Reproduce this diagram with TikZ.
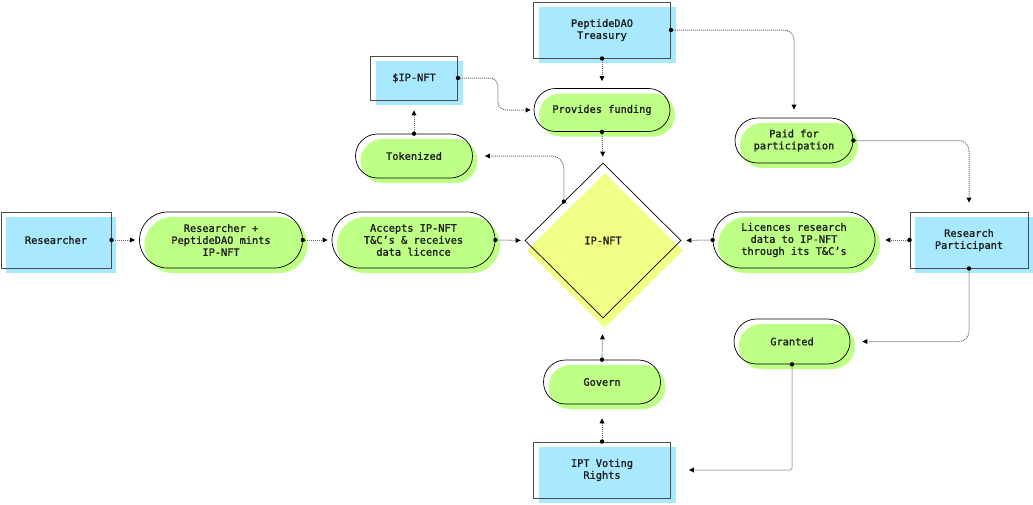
\documentclass[tikz,border=0pt]{standalone}
\usepackage{fontspec}
\setmainfont[FakeBold=1.4]{DejaVu Sans Mono}
\usetikzlibrary{arrows.meta,shapes.geometric}
\definecolor{bluefill}{HTML}{A8E9FF}
\definecolor{greenfill}{HTML}{BEFF86}
\definecolor{yellowfill}{HTML}{F1FF86}
\definecolor{ink}{HTML}{1E1E1E}
\tikzset{
  base/.style={inner sep=0pt, align=center, text=ink, font=\fontsize{10.3}{12}\selectfont},
  rectbox/.style={base, rectangle, draw=black!70, line width=0.9pt,
    preaction={fill=bluefill, transform canvas={shift={(5,5)}}}},
  pill/.style={base, rectangle, draw=black, line width=0.7pt, rounded corners=#1,
    preaction={fill=greenfill, transform canvas={shift={(5,5)}}}},
  gem/.style={base, diamond, draw=black, line width=0.7pt, aspect=1,
    preaction={fill=yellowfill, transform canvas={shift={(2,10)}}}},
  conn/.style={draw=black!60, line width=1pt, densely dotted,
    -{Triangle[length=5pt,width=5pt,black,line width=0pt]}, shorten >=#1},
  conn/.default=5pt,
  dot/.style={fill=black}
}
\begin{document}
\begin{tikzpicture}[x=1pt,y=-1pt]
\useasboundingbox (0,0) rectangle (1033,504);
% nodes
\node[rectbox, minimum width=110pt, minimum height=56pt] (res) at (56,240) {Researcher};
\node[pill=28pt, minimum width=163pt, minimum height=56pt] (mint) at (221,240) {Researcher +\\PeptideDAO mints\\IP-NFT};
\node[pill=28pt, minimum width=163pt, minimum height=56pt] (acc) at (413.5,240) {Accepts IP-NFT\\T\&C’s \& receives\\data licence};
\node[gem, minimum width=156pt, minimum height=155pt] (ip) at (603,240.5) {IP-NFT};
\node[pill=28pt, minimum width=162pt, minimum height=56pt] (lic) at (794,240) {Licences research\\data to IP-NFT\\through its T\&C’s};
\node[rectbox, minimum width=118pt, minimum height=56pt] (rp) at (969,240) {Research\\Participant};
\node[rectbox, minimum width=137pt, minimum height=56pt] (tr) at (602,30) {PeptideDAO\\Treasury};
\node[pill=21.5pt, minimum width=136pt, minimum height=43pt] (prov) at (602,110) {Provides funding};
\node[rectbox, minimum width=87pt, minimum height=44pt] (nft) at (414,78) {\$IP-NFT};
\node[pill=22pt, minimum width=117pt, minimum height=44pt] (tok) at (414,156) {Tokenized};
\node[pill=22.5pt, minimum width=118pt, minimum height=45pt] (paid) at (794,140.5) {Paid for\\participation};
\node[pill=22.5pt, minimum width=116pt, minimum height=45pt] (gra) at (792,341.5) {Granted};
\node[pill=22pt, minimum width=117pt, minimum height=44pt] (gov) at (602,382) {Govern};
\node[rectbox, minimum width=137pt, minimum height=56pt] (ipt) at (602,470) {IPT Voting\\Rights};
% connectors
\draw[conn=4pt] (res.east) -- (mint.west);
\draw[conn=4pt] (mint.east) -- (acc.west);
\draw[conn=4pt] (acc.east) -- (ip.west);
\draw[conn=10pt] (rp.west) -- (lic.east);
\draw[conn=5pt] (lic.west) -- (ip.east);
\draw[conn=7pt] (tr.south) -- (prov.north);
\draw[conn=6pt] (prov.south) -- (ip.north);
\draw[conn=16pt] (gov.north) -- (ip.south);
\draw[conn=14pt] (ipt.north) -- (gov.south);
\draw[conn=10pt] (tok.north) -- (nft.south);
\draw[conn=8pt, rounded corners=10pt] (tr.east) -| (paid.north);
\draw[conn=9pt, rounded corners=10pt] (paid.east) -| (rp.north);
\draw[conn=12pt, rounded corners=10pt] (rp.south) |- (gra.east);
\draw[conn=18pt, rounded corners=2pt] (gra.south) |- (ipt.east);
\draw[conn=3pt, rounded corners=8pt] (nft.east) -- ++(40,0) |- (prov.west);
\draw[conn=12pt, rounded corners=12pt] (ip.north west) |- (tok.east);
% start dots
\foreach \p in {res.east, mint.east, acc.east, rp.west, lic.west, tr.south, prov.south,
  gov.north, ipt.north, tok.north, tr.east, paid.east, rp.south, gra.south, nft.east, ip.north west}
  \fill[dot] (\p) circle (2.2);
\end{tikzpicture}
\end{document}
